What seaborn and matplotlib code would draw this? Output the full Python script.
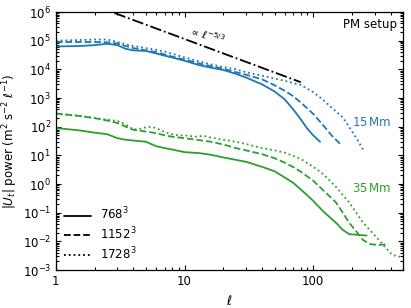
import numpy as np
import pandas as pd
import seaborn as sns
import matplotlib.pyplot as plt
from matplotlib.lines import Line2D
from matplotlib.ticker import LogLocator

# 15 Mm curves (blue)
ell_b768 = [1, 1.5, 2, 2.5, 3, 3.5, 4, 5, 6, 7, 8, 10, 13, 16, 20, 25, 30, 40, 50, 60, 70, 80, 90, 100, 113]
pow_b768 = [6.3e4, 6.5e4, 7.0e4, 7.8e4, 7.0e4, 5.2e4, 4.6e4, 4.4e4, 3.6e4, 3.0e4, 2.6e4, 2.0e4, 1.4e4,
            1.15e4, 9.5e3, 7.0e3, 5.2e3, 3.0e3, 1.7e3, 9e2, 4.0e2, 1.8e2, 85, 50, 30]

ell_b1152 = [1, 1.5, 2, 2.5, 3, 3.5, 4, 5, 6, 7, 8, 10, 13, 16, 20, 25, 30, 40, 50, 60, 70, 80, 100, 120, 140, 165]
pow_b1152 = [9.0e4, 9.0e4, 9.0e4, 8.8e4, 8.0e4, 6.5e4, 5.5e4, 4.6e4, 4.0e4, 3.3e4, 2.8e4, 2.2e4, 1.6e4,
             1.3e4, 1.05e4, 8.0e3, 6.5e3, 4.5e3, 2.8e3, 1.8e3, 1.15e3, 7.0e2, 2.8e2, 1.1e2, 48, 23]

ell_b1728 = [1, 1.5, 2, 2.5, 3, 3.5, 4, 5, 6, 7, 8, 10, 13, 16, 20, 25, 30, 40, 50, 60, 70, 80, 100,
             120, 140, 170, 200, 225, 250]
pow_b1728 = [1.0e5, 1.05e5, 1.1e5, 1.1e5, 9e4, 7.5e4, 6.5e4, 5.5e4, 4.8e4, 4.2e4, 3.5e4, 2.6e4, 1.9e4,
             1.5e4, 1.2e4, 1.0e4, 8.0e3, 6.0e3, 4.8e3, 4.0e3, 3.3e3, 2.9e3, 1.6e3,
             8.5e2, 4.5e2, 2.1e2, 70, 30, 13]

# 35 Mm curves (green)
ell_g768 = [1, 1.5, 2, 2.5, 3, 3.5, 4, 5, 6, 7, 8, 10, 13, 16, 20, 25, 30, 40, 50, 60, 70, 80, 100,
            120, 150, 170, 190, 220, 260]
pow_g768 = [90, 75, 62, 55, 40, 35, 33, 30, 21, 18, 16, 13, 12, 10.5, 8.5, 7.0, 6.0, 4.0, 2.8, 1.7, 1.1,
            0.65, 0.26, 0.11, 0.045, 0.025, 0.018, 0.017, 0.016]

ell_g1152 = [1, 1.5, 2, 2.5, 3, 3.5, 4, 5, 6, 7, 8, 10, 13, 16, 20, 25, 30, 40, 50, 60, 70, 80, 100,
             120, 150, 170, 190, 220, 245, 280, 320, 385]
pow_g1152 = [290, 240, 200, 165, 135, 100, 78, 68, 60, 50, 45, 40, 34, 30, 24, 18, 15, 11, 8.0, 5.6, 3.9,
             2.7, 1.3, 0.6, 0.23, 0.1, 0.045, 0.02, 0.011, 0.008, 0.0075, 0.008]

ell_g1728 = [1, 1.5, 2, 2.5, 3, 3.5, 4, 4.5, 5, 5.5, 6, 7, 8, 9, 10, 12, 14, 16, 20, 25, 30, 40, 50, 60,
             80, 100, 120, 150, 190, 245, 325, 410, 490]
pow_g1728 = [280, 240, 200, 175, 160, 120, 80, 85, 95, 100, 90, 65, 55, 50, 50, 45, 48, 42, 35, 30, 25,
             18, 15, 12.5, 7.5, 4.0, 2.2, 0.8, 0.23, 0.044, 0.011, 0.0034, 0.0028]

# reference slope line
ell_ref = [1.5, 80]
ref_amp = 5.3e6

resolutions = ["768$^3$", "1152$^3$", "1728$^3$"]
styles = ["-", "--", ":"]
blue = "#1f77b4"
green = "#2ca02c"

sns.set_style("ticks", {"axes.edgecolor": "black", "xtick.color": "black",
                        "ytick.color": "black", "text.color": "black",
                        "axes.labelcolor": "black"})
plt.rcParams["font.family"] = ["DejaVu Sans"]
plt.rcParams["xtick.direction"] = "in"
plt.rcParams["ytick.direction"] = "in"

fig = plt.figure(figsize=(4.11, 3.08), dpi=100)
ax = fig.add_axes([0.136, 0.123, 0.845, 0.838])

curves = [
    (ell_b768, pow_b768, blue, "-"),
    (ell_b1152, pow_b1152, blue, "--"),
    (ell_b1728, pow_b1728, blue, ":"),
    (ell_g768, pow_g768, green, "-"),
    (ell_g1152, pow_g1152, green, "--"),
    (ell_g1728, pow_g1728, green, ":"),
]
for ell, pw, col, ls in curves:
    df = pd.DataFrame({"ell": ell, "power": pw})
    sns.lineplot(data=df, x="ell", y="power", color=col, linestyle=ls, lw=1.3,
                 estimator=None, ax=ax)

ref = pd.DataFrame({"ell": ell_ref, "power": ref_amp * np.array(ell_ref) ** (-5 / 3)})
sns.lineplot(data=ref, x="ell", y="power", color="black", linestyle="-.", lw=1.3,
             estimator=None, ax=ax)

ax.set_xscale("log")
ax.set_yscale("log")
ax.set_xlim(1, 500)
ax.set_ylim(1e-3, 1e6)
ax.set_xticks([1, 10, 100])
ax.set_xticklabels(["1", "10", "100"])
ax.yaxis.set_major_locator(LogLocator(base=10, numticks=12))
ax.yaxis.set_minor_locator(LogLocator(base=10, subs=np.arange(2, 10), numticks=12))
ax.tick_params(which="both", top=True, right=True, labelsize=8.5, width=0.8)
ax.tick_params(which="major", length=3.5)
ax.tick_params(which="minor", length=2)
for sp in ax.spines.values():
    sp.set_linewidth(0.9)

ax.set_xlabel(r"$\ell$", fontsize=9)
ax.set_ylabel(r"$|U_t|$ power (m$^2$ s$^{-2}$ $\ell^{-1}$)", fontsize=8.5, labelpad=2)

ax.text(0.983, 0.953, "PM setup", transform=ax.transAxes, ha="right", va="center", fontsize=8.5)
ax.text(200, 135, r"15$\,$Mm", color=blue, ha="left", va="center", fontsize=8.5)
ax.text(200, 0.72, r"35$\,$Mm", color=green, ha="left", va="center", fontsize=8.5)
ax.text(15, 1.55e5, r"$\propto\,\ell^{-5/3}$", ha="center", va="center", fontsize=7.5,
        rotation=-15, rotation_mode="anchor")

handles = [Line2D([0], [0], color="black", linestyle=ls, lw=1.3) for ls in styles]
ax.legend(handles, resolutions, loc="lower left", frameon=False, fontsize=8.5,
          handlelength=2.3, handletextpad=0.7, labelspacing=0.25,
          borderaxespad=0.3, bbox_to_anchor=(0.0, 0.0))

fig.savefig("out.png", dpi=100)
